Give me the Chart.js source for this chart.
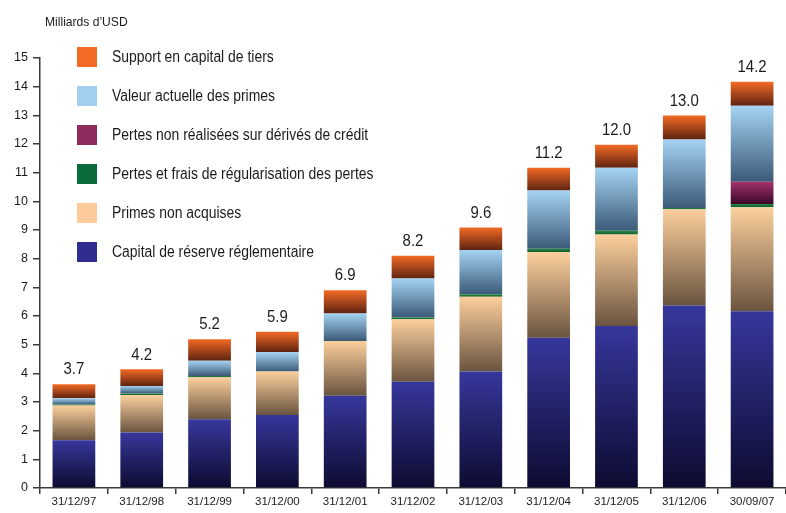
<!DOCTYPE html>
<html lang="fr">
<head>
<meta charset="utf-8">
<title>Capital de réserve</title>
<script src="https://cdn.jsdelivr.net/npm/chart.js@4/dist/chart.umd.min.js"></script>
<style>
  html, body { margin: 0; padding: 0; background: #ffffff; overflow: hidden; }
  #wrap { position: relative; width: 786px; height: 513px; }
</style>
</head>
<body>
<div id="wrap"><canvas id="reserveChart"></canvas></div>
<script>
// Données (milliards d'USD)
const categories = ['31/12/97', '31/12/98', '31/12/99', '31/12/00', '31/12/01', '31/12/02',
    '31/12/03', '31/12/04', '31/12/05', '31/12/06', '30/09/07'];
const capitalReserve = [1.67, 1.94, 2.40, 2.55, 3.22, 3.71, 4.06, 5.24, 5.65, 6.37, 6.17];
const primesNonAcquises = [1.21, 1.30, 1.46, 1.51, 1.91, 2.18, 2.61, 2.99, 3.19, 3.35, 3.62];
const pertesFrais = [0.03, 0.06, 0.05, 0, 0, 0.06, 0.09, 0.12, 0.13, 0.05, 0.12];
const pertesDerives = [0, 0, 0, 0, 0, 0, 0, 0, 0, 0, 0.77];
const valeurPrimes = [0.22, 0.26, 0.53, 0.68, 0.96, 1.36, 1.54, 2.03, 2.20, 2.39, 2.65];
const supportTiers = [0.49, 0.58, 0.75, 0.71, 0.81, 0.79, 0.79, 0.79, 0.80, 0.83, 0.84];
const totals = [3.7, 4.2, 5.2, 5.9, 6.9, 8.2, 9.6, 11.2, 12.0, 13.0, 14.2];
const yTicks = [0, 1, 2, 3, 4, 5, 6, 7, 8, 9, 10, 11, 12, 13, 14, 15];

const FONT = '"Liberation Sans", Arial, sans-serif';
const TEXT = '#1e1a1b';

// Dégradé vertical pour chaque segment (clair en haut, sombre en bas)
function segGradient(topColor, bottomColor) {
    return function(context) {
        const chart = context.chart;
        const y = chart.scales.y;
        if (!chart.chartArea || !y || context.type !== 'data') return topColor;
        const i = context.dataIndex;
        const d = context.datasetIndex;
        let start = 0;
        for (let k = 0; k < d; k++) start += chart.data.datasets[k].data[i];
        const end = start + chart.data.datasets[d].data[i];
        const y0 = y.getPixelForValue(end);
        const y1 = y.getPixelForValue(start);
        if (!isFinite(y0) || !isFinite(y1) || y0 === y1) return topColor;
        const g = chart.ctx.createLinearGradient(0, y0, 0, y1);
        g.addColorStop(0, topColor);
        g.addColorStop(1, bottomColor);
        return g;
    };
}

// Texte "condensé" (le graphique d'origine utilise une police étroite)
function narrowText(ctx, text, x, y, sx) {
    ctx.save();
    ctx.translate(x, y);
    ctx.scale(sx, 1);
    ctx.fillText(text, 0, 0);
    ctx.restore();
}

// Étiquettes des totaux au-dessus des barres
const totalLabels = {
    id: 'totalLabels',
    afterDatasetsDraw(chart) {
        const ctx = chart.ctx;
        const last = chart.getDatasetMeta(chart.data.datasets.length - 1);
        ctx.save();
        ctx.font = '17px ' + FONT;
        ctx.fillStyle = TEXT;
        ctx.textAlign = 'center';
        ctx.textBaseline = 'bottom';
        last.data.forEach((bar, i) => {
            narrowText(ctx, totals[i].toFixed(1), bar.x, bar.y - 6, 0.88);
        });
        ctx.restore();
    }
};

// Légende verticale dans la zone du graphique + titre de l'axe
const sideLegend = {
    id: 'sideLegend',
    afterDraw(chart) {
        const ctx = chart.ctx;
        ctx.save();
        ctx.font = '13px ' + FONT;
        ctx.fillStyle = TEXT;
        ctx.textAlign = 'left';
        ctx.textBaseline = 'middle';
        narrowText(ctx, 'Milliards d\u2019USD', 45, 22, 0.93);

        ctx.font = '16px ' + FONT;
        const items = chart.data.datasets.slice().reverse();
        items.forEach((ds, n) => {
            const cy = 57 + n * 39;
            ctx.fillStyle = ds.legendColor;
            ctx.fillRect(77, cy - 10, 20, 20);
            ctx.fillStyle = TEXT;
            narrowText(ctx, ds.label, 112, cy + 1, 0.87);
        });
        ctx.restore();
    }
};

const ctx = document.getElementById('reserveChart').getContext('2d');

new Chart(ctx, {
    type: 'bar',
    data: {
        labels: categories,
        datasets: [
            {
                label: 'Capital de réserve réglementaire',
                data: capitalReserve,
                legendColor: '#2f2d8e',
                backgroundColor: segGradient('#36379c', '#0d0b30')
            },
            {
                label: 'Primes non acquises',
                data: primesNonAcquises,
                legendColor: '#fdca9c',
                backgroundColor: segGradient('#fccf9d', '#6a543f')
            },
            {
                label: 'Pertes et frais de régularisation des pertes',
                data: pertesFrais,
                legendColor: '#0b6b3b',
                backgroundColor: segGradient('#2b8a48', '#0c5a2c')
            },
            {
                label: 'Pertes non réalisées sur dérivés de crédit',
                data: pertesDerives,
                legendColor: '#8c2b5c',
                backgroundColor: segGradient('#a3326c', '#3a0828')
            },
            {
                label: 'Valeur actuelle des primes',
                data: valeurPrimes,
                legendColor: '#a3d0f0',
                backgroundColor: segGradient('#a5d3f3', '#3b5a78')
            },
            {
                label: 'Support en capital de tiers',
                data: supportTiers,
                legendColor: '#f26a24',
                backgroundColor: segGradient('#f36a25', '#5e2310')
            }
        ]
    },
    options: {
        responsive: true,
        maintainAspectRatio: false,
        animation: false,
        layout: {
            padding: { top: 58, right: 0, bottom: 0, left: 0 }
        },
        datasets: {
            bar: {
                categoryPercentage: 1,
                barPercentage: 0.63,
                borderWidth: 0
            }
        },
        plugins: {
            legend: { display: false },
            tooltip: { enabled: false }
        },
        scales: {
            x: {
                stacked: true,
                afterFit: (scale) => { scale.height = 25; },
                border: { display: true, color: '#3a3a3a', width: 1.5 },
                grid: {
                    offset: true,
                    drawOnChartArea: false,
                    drawTicks: true,
                    tickLength: 6,
                    color: '#3a3a3a',
                    lineWidth: 1.5
                },
                ticks: {
                    color: TEXT,
                    padding: 1,
                    maxRotation: 0,
                    font: { family: FONT, size: 11.5 }
                }
            },
            y: {
                stacked: true,
                min: 0,
                max: 15,
                afterFit: (scale) => { scale.width = 40; },
                afterBuildTicks: (scale) => {
                    scale.ticks = yTicks.map(v => ({ value: v }));
                },
                border: { display: true, color: '#3a3a3a', width: 1.5 },
                grid: {
                    drawOnChartArea: false,
                    drawTicks: true,
                    tickLength: 7,
                    color: '#3a3a3a',
                    lineWidth: 1.5
                },
                ticks: {
                    color: TEXT,
                    padding: 5,
                    font: { family: FONT, size: 12.5 }
                }
            }
        }
    },
    plugins: [totalLabels, sideLegend]
});
</script>
</body>
</html>
